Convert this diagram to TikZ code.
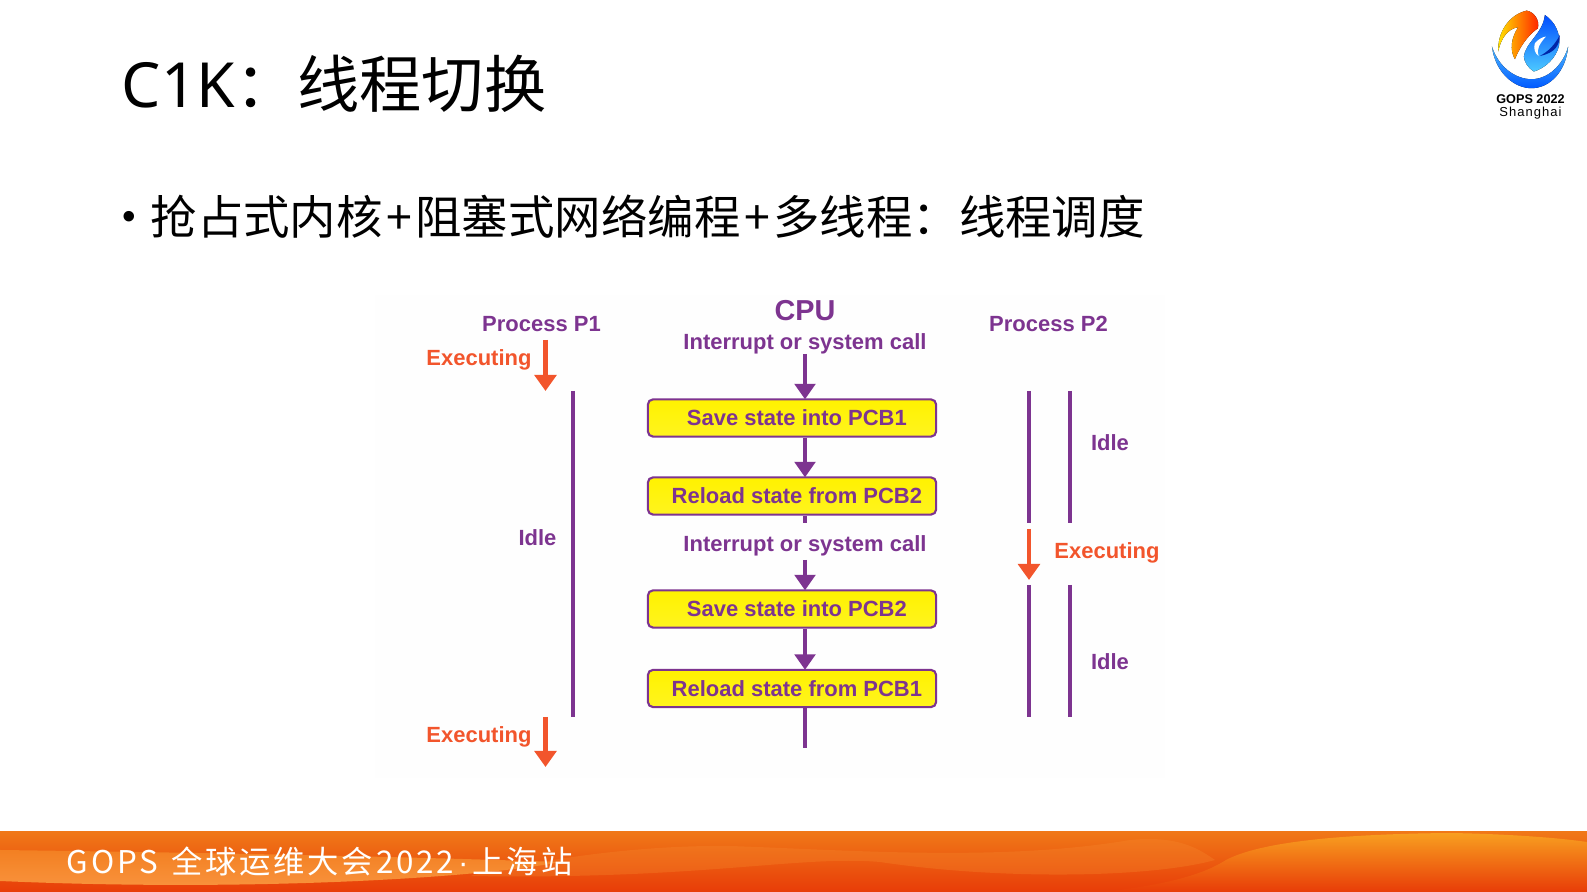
\documentclass[tikz,border=0pt]{standalone}
\usepackage{fontspec}
\setmainfont{Liberation Sans}
\newfontfamily\cjkfont{Noto Sans CJK SC}
\newfontfamily\latfont{Noto Sans}
\newfontfamily\footfont[LetterSpace=9]{Noto Sans CJK SC}
\newfontfamily\dotfont{Liberation Sans}
\usetikzlibrary{arrows.meta}
\definecolor{procpurple}{HTML}{7D3490}
\definecolor{execorange}{HTML}{F2552C}
\definecolor{boxyellow}{HTML}{FFF200}
\definecolor{foottop}{HTML}{F07818}
\definecolor{footmid}{HTML}{F38022}
\definecolor{footred}{HTML}{E83C08}
\definecolor{footlight}{HTML}{F99540}
\definecolor{footblob}{HTML}{F89F20}
\tikzset{
    procline/.style={draw=procpurple, line width=1.4pt},
    procarrow/.style={procline, -{Triangle[length=4.4pt,width=5.8pt]}, shorten >=-0.3pt},
    execarrow/.style={draw=execorange, line width=1.4pt, -{Triangle[length=4.6pt,width=6.2pt]}},
    proclabel/.style={text=procpurple, font=\fontsize{6.25}{7}\selectfont\bfseries, inner sep=0pt},
    execlabel/.style={text=execorange, font=\fontsize{6.25}{7}\selectfont\bfseries, inner sep=0pt},
    pcbbox/.style={draw=procpurple, line width=0.6pt, rounded corners=1.5pt, top color=boxyellow, bottom color=boxyellow!88!white,
        minimum width=82pt, minimum height=10.6pt, inner sep=0pt, text=procpurple, font=\fontsize{6.25}{7}\selectfont\bfseries},
}
\begin{document}
\begin{tikzpicture}[x=0.01cm, y=-0.01cm]
    \useasboundingbox (0,0) rectangle (1587,892);
    \fill[white] (0,0) rectangle (1587,892);
    \fill[black!0.5] (375,295) rectangle (1165,778);

    % title
    \node[anchor=base west, inner sep=0pt, font=\cjkfont\fontsize{17.7}{20}\selectfont] (title) at (121,108) {{\latfont C1K}：线程切换};
    \node[inner sep=0pt, font=\dotfont\fontsize{11}{13}\selectfont] (bullet) at (129,220) {•};
    \node[anchor=base west, inner sep=0pt, font=\cjkfont\fontsize{13.2}{15}\selectfont] (subtitle) at (150,235) {抢占式内核\hspace{1pt}+\hspace{1pt}阻塞式网络编程\hspace{1pt}+\hspace{1pt}多线程：线程调度};

    % headers
    \node[proclabel] (p1) at (541.5,324) {Process P1};
    \node[proclabel] (p2) at (1048.5,324) {Process P2};
    \node[proclabel, font=\fontsize{8.2}{9}\selectfont\bfseries] (cpu) at (805,311) {CPU};
    \node[proclabel] (irqa) at (805,344) {Interrupt or system call};
    \node[proclabel] (irqb) at (805,546) {Interrupt or system call};

    % cpu column
    \coordinate (cpux) at (805,0);
    \node[pcbbox] (savea) at (792,418) {\hspace{2.8pt}Save state into PCB1};
    \node[pcbbox] (reloadb) at (792,496) {\hspace{2.8pt}Reload state from PCB2};
    \node[pcbbox] (saveb) at (792,609) {\hspace{2.8pt}Save state into PCB2};
    \node[pcbbox] (reloada) at (792,688.5) {\hspace{2.8pt}Reload state from PCB1};
    \coordinate (irqaend) at (805,354);
    \coordinate (stub) at (805,523);
    \coordinate (irqbend) at (805,560);
    \coordinate (cpuend) at (805,748);
    \draw[procarrow] (irqaend) -- (savea.north -| cpux);
    \draw[procarrow] (savea.south -| cpux) -- (reloadb.north -| cpux);
    \draw[procline] (reloadb.south -| cpux) -- (stub);
    \draw[procarrow] (irqbend) -- (saveb.north -| cpux);
    \draw[procarrow] (saveb.south -| cpux) -- (reloada.north -| cpux);
    \draw[procline] (reloada.south -| cpux) -- (cpuend);

    % process P1
    \node[execlabel] (execa) at (479,360) {Executing};
    \node[proclabel] (idlea) at (537.5,538) {Idle};
    \node[execlabel] (execb) at (479,737) {Executing};
    \coordinate (execastart) at (545.5,340);
    \coordinate (execaend) at (545.5,391);
    \coordinate (idleatop) at (573,391);
    \coordinate (idleabot) at (573,717);
    \coordinate (execbstart) at (545.5,717);
    \coordinate (execbend) at (545.5,767);
    \draw[execarrow] (execastart) -- (execaend);
    \draw[procline] (idleatop) -- (idleabot);
    \draw[execarrow] (execbstart) -- (execbend);

    % process P2
    \node[proclabel] (idleb) at (1110,443) {Idle};
    \node[execlabel] (execc) at (1107,552.5) {Executing};
    \node[proclabel] (idlec) at (1110,662) {Idle};
    \coordinate (ba) at (1029,391);
    \coordinate (bb) at (1029,523);
    \coordinate (bc) at (1070,391);
    \coordinate (bd) at (1070,523);
    \coordinate (ca) at (1029,585);
    \coordinate (cb) at (1029,717);
    \coordinate (cc) at (1070,585);
    \coordinate (cd) at (1070,717);
    \coordinate (execcstart) at (1029,529);
    \coordinate (execcend) at (1029,580);
    \draw[procline] (ba) -- (bb);
    \draw[procline] (bc) -- (bd);
    \draw[execarrow] (execcstart) -- (execcend);
    \draw[procline] (ca) -- (cb);
    \draw[procline] (cc) -- (cd);

    % logo
    \begin{scope}[shift={(1460,0)}, x=0.00333cm, y=-0.00333cm]
        \fill[top color=blue!40!cyan!70!white, bottom color=blue!65!cyan] (96,140) .. controls (105,215) and (160,265) .. (215,265) .. controls (270,265) and (318,215) .. (325,140) .. controls (310,195) and (265,238) .. (215,238) .. controls (165,238) and (115,200) .. (96,140) -- cycle;
        \fill[left color=yellow!80!orange, middle color=orange!85!yellow, right color=red!75!orange] (115,155) .. controls (112,100) and (145,45) .. (200,32) .. controls (222,35) and (240,60) .. (234,85) .. controls (205,105) and (180,140) .. (165,178) .. controls (148,150) and (155,110) .. (175,82) .. controls (145,85) and (122,115) .. (115,155) -- cycle;
        \fill[top color=blue!70!cyan, bottom color=cyan!70!blue!70!white] (255,45) .. controls (285,65) and (302,100) .. (298,135) .. controls (290,175) and (255,205) .. (222,215) .. controls (205,205) and (192,185) .. (192,170) .. controls (195,130) and (250,100) .. (255,45) -- cycle;
        \fill[white] (258,110) .. controls (240,130) and (228,150) .. (236,168) .. controls (225,160) and (220,145) .. (225,130) .. controls (235,118) and (250,110) .. (258,110) -- cycle;
        \fill[blue!60!black!85!cyan] (300,105) .. controls (300,135) and (285,160) .. (240,168) .. controls (265,155) and (285,135) .. (300,105) -- cycle;
    \end{scope}
    \node[inner sep=0pt, font=\fontsize{3.6}{4}\selectfont\bfseries] (logoa) at (1530.5,99) {GOPS 2022};
    \node[inner sep=0pt, font=\fontsize{3.7}{4}\selectfont\addfontfeature{LetterSpace=8}] (logob) at (1530.5,113.5) {Shanghai};

    % footer
    \shade[top color=foottop, middle color=footmid, bottom color=footred] (0,831.5) rectangle (1587,892);
    \fill[footmid!70!footlight, opacity=0.35] (470,876) .. controls (550,858) and (640,845) .. (730,846) .. controls (850,850) and (1000,862) .. (1130,840) .. controls (1180,835) and (1200,850) .. (1215,860) .. controls (1150,878) and (1000,880) .. (880,862) .. controls (800,855) and (700,880) .. (470,876) -- cycle;
    \shade[top color=footmid, bottom color=footlight] (0,850) .. controls (150,852) and (350,855) .. (560,862) .. controls (480,878) and (250,892) .. (0,881) -- cycle;
    \shade[top color=footblob, middle color=footmid, bottom color=footred] (1100,892) .. controls (1180,884) and (1210,870) .. (1226,860) .. controls (1260,842) and (1340,834) .. (1450,833) .. controls (1510,834) and (1560,838) .. (1587,842) -- (1587,892) -- cycle;
    \node[anchor=west, inner sep=0pt, text=white, font=\footfont\fontsize{8.9}{10}\selectfont] (foot) at (66,862) {GOPS\hspace{1pt} 全球运维大会2022\hspace{1.2pt}{\dotfont·}\hspace{1.2pt}上海站};
\end{tikzpicture}
\end{document}
